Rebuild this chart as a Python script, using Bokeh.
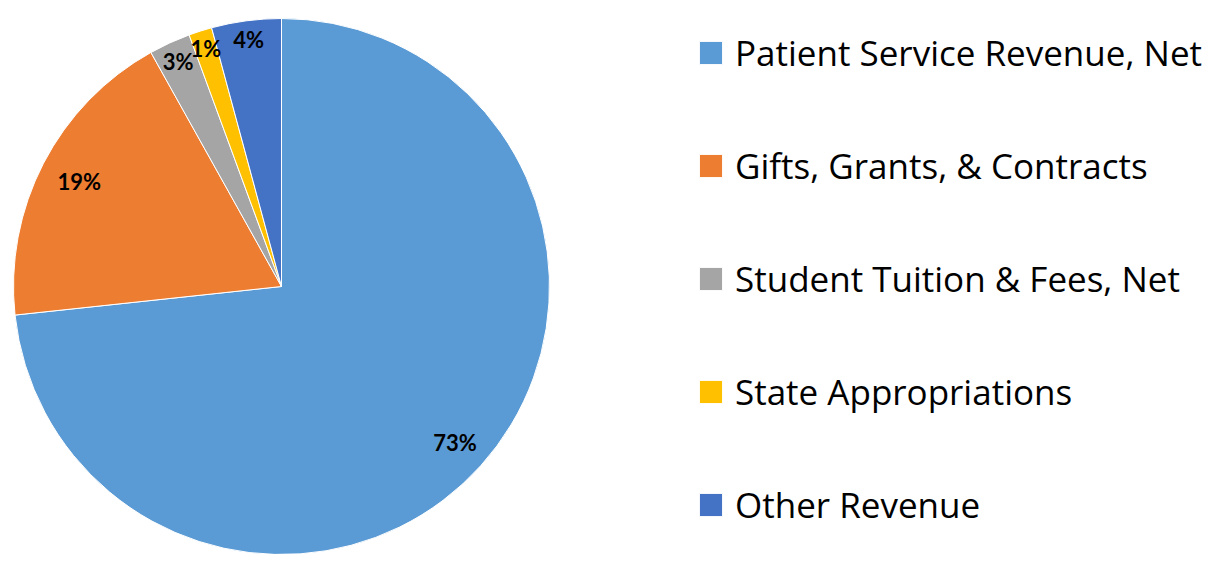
import math
from bokeh.plotting import figure
from bokeh.models import ColumnDataSource, Legend, LegendItem, Range1d
from bokeh.core.properties import value
from bokeh.embed import file_html
from bokeh.resources import INLINE

# ---- data ----
categories = ["Patient Service Revenue, Net", "Gifts, Grants, & Contracts",
              "Student Tuition & Fees, Net", "State Appropriations", "Other Revenue"]
shares = [73.3, 18.6, 2.5, 1.4, 4.2]
labels = ["73%", "19%", "3%", "1%", "4%"]
colors = ["#5B9BD5", "#ED7D31", "#A5A5A5", "#FFC000", "#4472C4"]

# ---- layout / style ----
W, H = 1203, 554
CX, CY, R = 281, H - 286, 268
label_frac = [0.87, 0.85, 0.925, 0.93, 0.93]

total = sum(shares)
starts, ends, lx, ly = [], [], [], []
cum = 0.0
for i, s in enumerate(shares):
    a0 = math.pi / 2 - 2 * math.pi * cum / total
    cum += s
    a1 = math.pi / 2 - 2 * math.pi * cum / total
    starts.append(a0)
    ends.append(a1)
    mid = (a0 + a1) / 2
    lx.append(CX + R * label_frac[i] * math.cos(mid))
    ly.append(CY + R * label_frac[i] * math.sin(mid))

src = ColumnDataSource(dict(cat=categories, start=starts, end=ends, color=colors,
                            lx=lx, ly=ly, lab=labels))

p = figure(width=W, height=H, output_backend="svg", toolbar_location=None,
           x_range=Range1d(0, W), y_range=Range1d(0, H), min_border=0)
p.axis.visible = False
p.grid.visible = False
p.outline_line_color = None
p.background_fill_color = "white"

wr = p.wedge(x=CX, y=CY, radius=R, start_angle="start", end_angle="end",
             direction="clock", fill_color="color", line_color="white",
             line_width=1, source=src)

p.text(x="lx", y="ly", text="lab", source=src, text_align="center",
       text_baseline="middle", text_font=value("Lato"), text_font_style="bold",
       text_font_size="22px", text_color="black")

items = [LegendItem(label=c, renderers=[wr], index=i) for i, c in enumerate(categories)]
legend = Legend(items=items, location=(696, 26), padding=0, margin=0,
                spacing=66, glyph_width=29, glyph_height=29, label_standoff=10,
                label_text_font="Open Sans", label_text_font_size="35px",
                label_text_color="black", border_line_color=None,
                background_fill_alpha=0)
p.add_layout(legend)

open("out.html", "w").write(file_html(p, INLINE))
